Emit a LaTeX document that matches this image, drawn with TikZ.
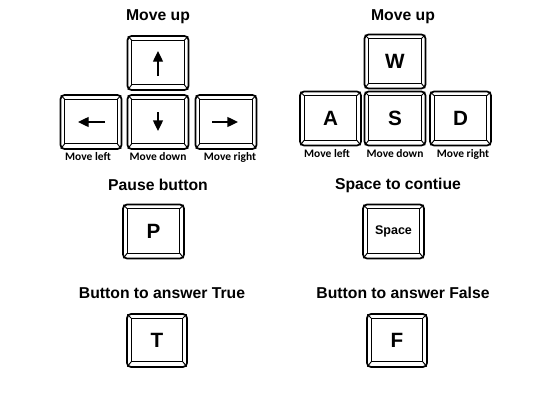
\documentclass[tikz,border=0pt]{standalone}
\usepackage{fontspec}
\setmainfont{Liberation Sans}
\newfontfamily\labelfont{Carlito}
\usetikzlibrary{calc,arrows.meta}

\tikzset{every picture/.style={line width=0.75pt}}
\tikzset{
	keycap/.style={draw, line width=1.3pt, rounded corners=3pt, minimum width=45.75pt, minimum height=40.5pt, inner sep=0pt, font=\bfseries\fontsize{15.5}{18}\selectfont},
	keyface/.style={line width=0.7pt},
	keyarrow/.style={line width=1pt, -{Triangle[width=7.5pt,length=8pt]}},
	keytitle/.style={font=\bfseries\fontsize{11.8}{14}\selectfont},
	keylabel/.style={font=\labelfont\bfseries\fontsize{8.6}{10}\selectfont}}

\begin{document}
\begin{tikzpicture}[x=0.75pt,y=0.75pt,yscale=-1,xscale=1]
	\path (0,0) rectangle (536,418); %set diagram size

	%Arrow keys
	\node [keycap] (up) at (158,63) {};
	\node [keycap] (left) at (91,122) {};
	\node [keycap] (down) at (158,122) {};
	\node [keycap] (right) at (226,122) {};
	%WASD keys
	\node [keycap] (w) at (395,61.5) {W};
	\node [keycap] (a) at (330.5,118.5) {A};
	\node [keycap] (s) at (395,118.5) {S};
	\node [keycap] (d) at (460.5,118.5) {D};
	%Single keys
	\node [keycap] (p) at (153.5,231.5) {P};
	\node [keycap, font=\bfseries\fontsize{9.4}{11}\selectfont] (space) at (393.5,231.5) {Space};
	\node [keycap, minimum width=45pt, minimum height=39.75pt] (t) at (157,340.5) {T};
	\node [keycap, minimum width=45pt, minimum height=39.75pt] (f) at (397,340.5) {F};

	%Key faces
	\foreach \k in {up,left,down,right,w,a,s,d,p,space,t,f}{
		\draw [keyface] ($(\k.north west)+(5,5)$) rectangle ($(\k.south east)+(-5,-6)$);
		\draw [keyface] ($(\k.north west)+(1.2,1.2)$) -- ($(\k.north west)+(5,5)$);
		\draw [keyface] ($(\k.north east)+(-1.2,1.2)$) -- ($(\k.north east)+(-5,5)$);
		\draw [keyface] ($(\k.south west)+(1.2,-1.2)$) -- ($(\k.south west)+(5,-6)$);
		\draw [keyface] ($(\k.south east)+(-1.2,-1.2)$) -- ($(\k.south east)+(-5,-6)$);
	}

	%Arrows
	\draw [keyarrow] ($(up)+(0,13)$) -- ($(up)+(0,-12)$);
	\draw [keyarrow] ($(left)+(14,0)$) -- ($(left)+(-13,0)$);
	\draw [keyarrow] ($(down)+(0,-10)$) -- ($(down)+(0,9)$);
	\draw [keyarrow] ($(right)+(-14,0)$) -- ($(right)+(12,0)$);

	% Text Node
	\node [keytitle] (upA) at (158,17) {Move up};
	% Text Node
	\node [keytitle] (upB) at (403,17) {Move up};
	% Text Node
	\node [keylabel] (leftA) at (88,157) {Move left};
	\node [keylabel] (downA) at (158,157) {Move down};
	\node [keylabel] (rightA) at (230,157) {Move right};
	% Text Node
	\node [keylabel] (leftB) at (327,154) {Move left};
	\node [keylabel] (downB) at (395,154) {Move down};
	\node [keylabel] (rightB) at (463,154) {Move right};
	% Text Node
	\node [keytitle] (pause) at (158,185) {Pause button};
	\node [keytitle] (cont) at (398,185) {Space to contiue};
	% Text Node
	\node [keytitle] (true) at (162,293) {Button to answer True};
	\node [keytitle] (false) at (403,293) {Button to answer False};

\end{tikzpicture}
\end{document}
